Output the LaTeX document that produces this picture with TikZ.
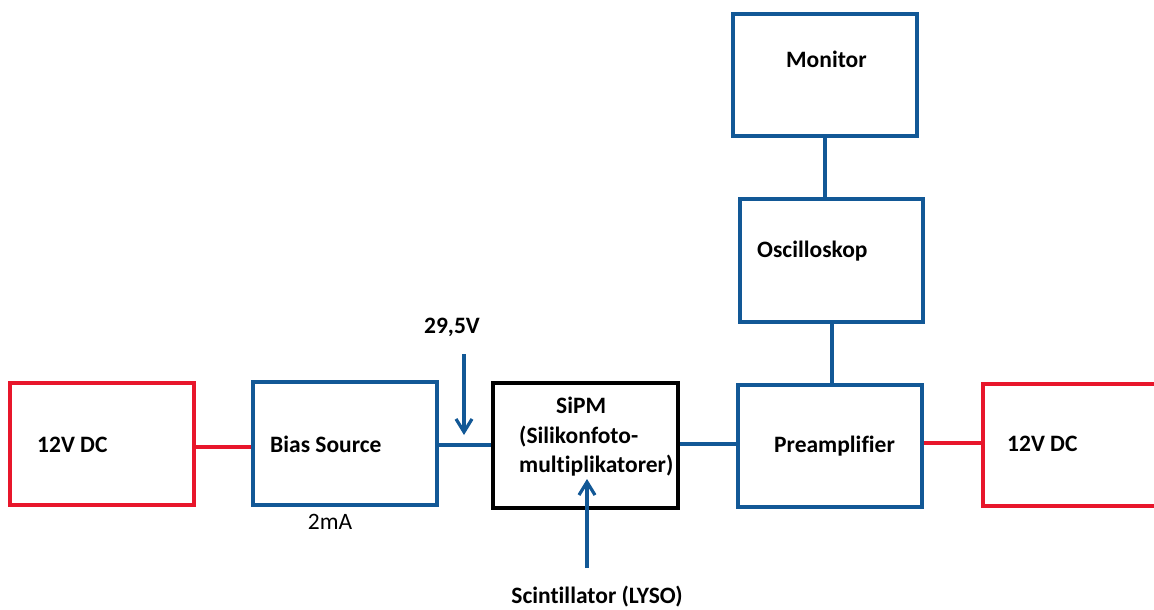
\documentclass[tikz,border=0pt]{standalone}
\usepackage{fontspec}
\setmainfont[Ligatures=NoCommon]{Carlito}
\usetikzlibrary{arrows.meta}
\definecolor{bblue}{RGB}{18,88,150}
\definecolor{rred}{RGB}{232,22,43}
\tikzset{
  every node/.style={font=\fontsize{23.5}{29.5}\selectfont\bfseries, inner sep=0pt},
  bluebox/.style={draw=bblue, line width=3.2pt},
  redbox/.style={draw=rred, line width=3.2pt},
  blackbox/.style={draw=black, line width=4pt},
  bline/.style={draw=bblue, line width=3.2pt},
  rline/.style={draw=rred, line width=3.2pt},
  barrow/.style={draw=bblue, line width=3.2pt, -{Straight Barb[length=13pt,width=16pt,line width=3.2pt]}},
  lbl/.style={anchor=west},
}
\begin{document}
\begin{tikzpicture}[x=1pt,y=-1pt]
\useasboundingbox (0,0) rectangle (1154,610);
% boxes
\node[redbox, minimum width=184pt, minimum height=122pt] (dcl) at (102,444) {};
\node[bluebox, minimum width=184pt, minimum height=123pt] (bias) at (345,443.5) {};
\node[blackbox, minimum width=185pt, minimum height=125pt] (sipm) at (585.5,445.5) {};
\node[bluebox, minimum width=184pt, minimum height=122pt] (pre) at (830,446) {};
\node[bluebox, minimum width=184pt, minimum height=122pt] (mon) at (825,75) {};
\node[bluebox, minimum width=183pt, minimum height=123pt] (osc) at (831.5,260.5) {};
% right 12V DC box (cut off at right edge)
\coordinate (dcrTL) at (1160,384);
\coordinate (dcrBL) at (1160,506);
\draw[rred, line width=3.2pt] (dcrTL) -- (983,384) coordinate (dcr) -- (983,506) -- (dcrBL);
\coordinate (dcrW) at (983,443);
% texts
\node[lbl] (t1) at (37,445) {12V DC};
\node[lbl] (t2) at (270,444) {Bias Source};
\node[anchor=north west, align=left] (t3) at (519,397) {\hspace*{37pt}SiPM\\(Silikonfoto-\\multiplikatorer)};
\node[lbl] (t4) at (774,446.5) {Preamplifier};
\node[lbl] (t5) at (1007,444) {12V DC};
\node[lbl] (t6) at (786,59) {Monitor};
\node[lbl] (t7) at (757,251) {Oscilloskop};
\node (v) at (452,327) {29,5V};
\node (scint) at (597,597) {Scintillator (LYSO)};
\node[font=\fontsize{23.5}{29.5}\selectfont] (ma) at (330,522) {2mA};
% connectors
\draw[rline] (dcl.east |- 0,447) -- (bias.west |- 0,447);
\draw[bline] (bias.east |- 0,445) -- (sipm.west |- 0,445);
\draw[bline] (sipm.east |- 0,444) -- (pre.west |- 0,444);
\draw[rline] (pre.east |- 0,443) -- (dcrW);
\draw[bline] (mon.south -| 825,0) -- (osc.north -| 825,0);
\draw[bline] (osc.south -| 832,0) -- (pre.north -| 832,0);
\coordinate (vs) at (464,354);
\coordinate (ve) at (464,435);
\draw[barrow] (vs) -- (ve);
\coordinate (ss) at (587,568);
\coordinate (se) at (587,479);
\draw[barrow] (ss) -- (se);
\end{tikzpicture}
\end{document}
